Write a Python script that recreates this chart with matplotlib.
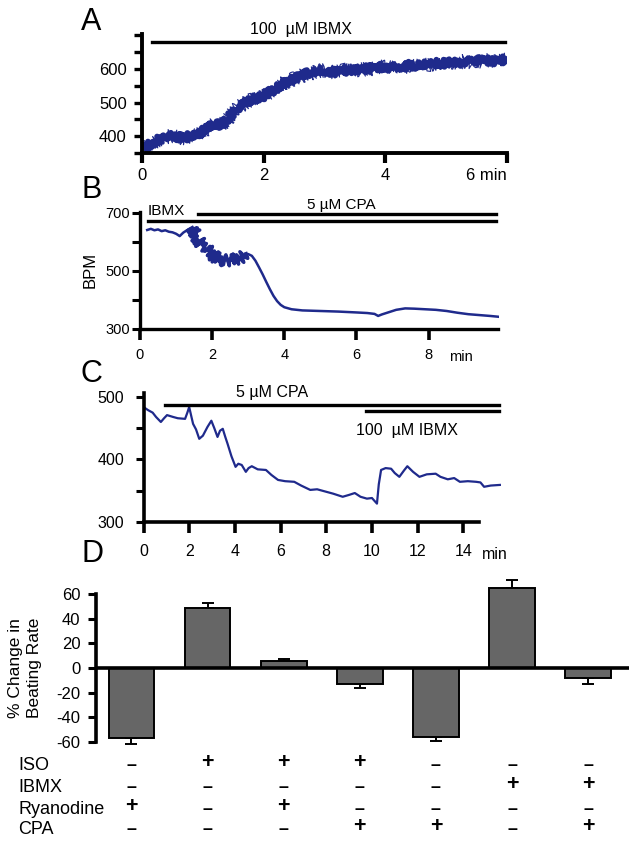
import matplotlib
matplotlib.use('Agg')
import matplotlib.pyplot as plt
import matplotlib.transforms as mtransforms

plt.rcParams['font.family'] = ['Liberation Sans', 'DejaVu Sans']
plt.rcParams['axes.unicode_minus'] = False

W, H = 633, 843
trace_color = '#1f2a8c'

# Panel A: 100 uM IBMX, beating rate (BPM) vs time (min)
a_time = [0.05, 0.1, 0.2, 0.3, 0.4, 0.5, 0.6, 0.7, 0.8, 0.9,
          1.0, 1.1, 1.2, 1.3, 1.4, 1.5, 1.6, 1.7, 1.8, 1.9,
          2.0, 2.1, 2.2, 2.3, 2.4, 2.5, 2.6, 2.7, 2.8, 2.9,
          3.0, 3.1, 3.2, 3.3, 3.4, 3.5, 3.6, 3.7, 3.8, 3.9,
          4.0, 4.1, 4.2, 4.3, 4.4, 4.5, 4.6, 4.7, 4.8, 4.9,
          5.0, 5.1, 5.2, 5.3, 5.4, 5.5, 5.6, 5.7, 5.8, 5.9, 6.0]
a_bpm = [365, 372, 383, 392, 398, 401, 397, 394, 404, 399,
         415, 425, 437, 433, 448, 472, 488, 498, 509, 515,
         519, 531, 543, 556, 562, 571, 577, 586, 588, 594,
         596, 592, 590, 597, 594, 599, 596, 603, 600, 605,
         607, 604, 609, 606, 612, 609, 614, 611, 616, 619,
         616, 621, 618, 624, 620, 626, 622, 627, 623, 628, 624]

# Panel B: IBMX then 5 uM CPA
b_time = [0.2, 0.3, 0.4, 0.5, 0.6, 0.7, 0.8, 0.9, 1.0, 1.1, 1.2, 1.3, 1.4,
          1.45, 1.55, 1.65, 1.75, 1.85, 1.95, 2.05, 2.15, 2.25, 2.35,
          2.45, 2.55, 2.65, 2.75, 2.85, 2.95,
          3.0, 3.1, 3.2, 3.3, 3.4, 3.5, 3.6, 3.7, 3.8, 3.9, 4.0, 4.2,
          4.5, 5.0, 5.5, 6.0, 6.3, 6.5, 6.6, 6.7, 6.9, 7.1, 7.35, 7.6,
          7.9, 8.2, 8.5, 8.8, 9.1, 9.4, 9.7, 9.95]
b_bpm = [641, 645, 640, 643, 637, 640, 635, 633, 628, 620, 632, 640, 647,
         649, 618, 600, 585, 575, 566, 551, 542, 540, 536,
         538, 534, 540, 538, 548, 558,
         558, 552, 535, 512, 488, 462, 437, 414, 396, 383, 375, 368,
         364, 362, 360, 357, 355, 352, 345, 350, 358, 366, 371, 370,
         368, 366, 362, 356, 351, 348, 345, 342]
b_noisy = (1.45, 2.95)   # stretch of the trace recorded with heavy beat-to-beat noise

# Panel C: 5 uM CPA then 100 uM IBMX
c_time = [0.0, 0.2, 0.4, 0.55, 0.76, 0.9, 1.03, 1.3, 1.5, 1.82,
          1.92, 2.0, 2.1, 2.17, 2.3, 2.44, 2.6, 2.8, 2.97, 3.1,
          3.24, 3.35, 3.47, 3.58, 3.68, 3.85, 4.03, 4.15, 4.3, 4.48,
          4.6, 4.74, 5.0, 5.36, 5.6, 5.89, 6.2, 6.6, 6.9, 7.3,
          7.6, 8.0, 8.3, 8.72, 9.0, 9.25, 9.5, 9.78, 10.0, 10.22,
          10.3, 10.4, 10.6, 10.84, 11.0, 11.2, 11.4, 11.55, 11.8, 12.08,
          12.4, 12.79, 13.0, 13.32, 13.6, 13.85, 14.2, 14.56, 14.75, 14.91,
          15.2, 15.6]
c_bpm = [484, 479, 475, 468, 460, 466, 471, 468, 466, 465,
         475, 484, 468, 457, 448, 433, 438, 452, 462, 450,
         436, 446, 449, 436, 425, 405, 388, 393, 391, 380,
         386, 389, 384, 383, 375, 367, 365, 364, 358, 351,
         352, 348, 345, 340, 343, 346, 340, 337, 338, 329,
         360, 383, 386, 385, 378, 372, 382, 389, 380, 372,
         376, 377, 372, 368, 370, 364, 365, 364, 363, 356,
         358, 359]

# Panel D: % change in beating rate
d_change = [-57, 49, 6, -13, -56, 65, -8]
d_err = [5, 3.5, 1, 3.5, 3.5, 6.5, 5]
row_names = ['ISO', 'IBMX', 'Ryanodine', 'CPA']
row_signs = [['-', '+', '+', '+', '-', '-', '-'],
             ['-', '-', '-', '-', '-', '+', '+'],
             ['+', '-', '+', '-', '-', '-', '-'],
             ['-', '-', '-', '+', '+', '-', '+']]

fig = plt.figure(figsize=(W / 100, H / 100), dpi=100)


def px_axes(left, top, right, bottom):
    return fig.add_axes([left / W, 1 - bottom / H, (right - left) / W, (bottom - top) / H])


def style_axes(ax, lw=2.6):
    for s in ['top', 'right']:
        ax.spines[s].set_visible(False)
    ax.spines['left'].set_linewidth(lw)
    ax.spines['bottom'].set_linewidth(lw)
    ax.patch.set_alpha(0)


# ---- A ----
axA = px_axes(142, 34, 507, 153)
style_axes(axA, 2.8)
band, = axA.plot(a_time, a_bpm, color=trace_color, lw=4.2)
band.set_sketch_params(scale=3.5, length=1.2, randomness=3)
edge, = axA.plot(a_time, a_bpm, color=trace_color, lw=0.8)
edge.set_sketch_params(scale=7, length=0.8, randomness=4)
axA.set_xlim(0, 6)
axA.set_ylim(350, 704)
axA.set_yticks([400, 500, 600])
axA.set_yticks([350, 450, 550, 650, 700], minor=True)
axA.set_xticks([0, 2, 4, 6])
axA.set_xticklabels(['0', '2', '4', '6 min'])
axA.get_xticklabels()[-1].set_horizontalalignment('right')
axA.tick_params(axis='y', which='both', length=6, width=2.4, labelsize=12, pad=5)
axA.tick_params(axis='x', length=7, width=3, labelsize=12, pad=4)
axA.plot([0.16, 5.96], [680, 680], color='black', lw=2.4, clip_on=False)
axA.text(2.61, 716, '100  µM IBMX', ha='center', va='center', fontsize=11.5)

# ---- B ----
axB = px_axes(140, 211.7, 499, 329)
style_axes(axB, 2.4)
axB.plot(b_time, b_bpm, color=trace_color, lw=1.8)
seg = [i for i, t in enumerate(b_time) if b_noisy[0] <= t <= b_noisy[1]]
noisy, = axB.plot([b_time[i] for i in seg], [b_bpm[i] for i in seg], color=trace_color, lw=2.5)
noisy.set_sketch_params(scale=6, length=1.2, randomness=3)
axB.set_xlim(0, 9.95)
axB.set_ylim(300, 704)
axB.spines['bottom'].set_bounds(0, 9.92)
axB.set_yticks([300, 500, 700])
axB.set_yticks([400, 600], minor=True)
axB.set_xticks([0, 2, 4, 6, 8])
axB.tick_params(axis='y', which='both', length=6, width=2.2, labelsize=10.5, pad=1)
axB.tick_params(axis='x', length=8, width=2.6, labelsize=10.5, pad=6)
axB.set_ylabel('BPM', fontsize=12, labelpad=6)
axB.plot([0.21, 9.86], [672, 672], color='black', lw=2.4, clip_on=False)
axB.plot([1.61, 9.86], [695, 695], color='black', lw=2.4, clip_on=False)
axB.text(0.22, 706, 'IBMX', ha='left', va='center', fontsize=11)
axB.text(5.58, 727, '5 µM CPA', ha='center', va='center', fontsize=11)
axB.text(8.89, 203, 'min', ha='center', va='center', fontsize=10.5)

# ---- C ----
axC = px_axes(143.5, 393.3, 501, 521.7)
style_axes(axC, 2.6)
axC.plot(c_time, c_bpm, color=trace_color, lw=1.6)
axC.set_xlim(0, 15.65)
axC.set_ylim(300, 506)
axC.spines['bottom'].set_bounds(0, 14.7)
axC.set_yticks([300, 400, 500])
axC.set_yticks([350, 450], minor=True)
axC.set_xticks([0, 2, 4, 6, 8, 10, 12, 14])
axC.tick_params(axis='y', which='both', length=6, width=2.2, labelsize=11.5, pad=8)
axC.tick_params(axis='x', length=8, width=2.6, labelsize=11.5, pad=8)
axC.plot([0.94, 15.56], [488, 488], color='black', lw=2.4, clip_on=False)
axC.plot([9.73, 15.56], [477, 477], color='black', lw=2.4, clip_on=False)
axC.text(5.62, 508, '5 µM CPA', ha='center', va='center', fontsize=11.5)
axC.text(11.55, 447, '100  µM IBMX', ha='center', va='center', fontsize=11.5)
axC.text(15.36, 247, 'min', ha='center', va='center', fontsize=11.5)

# ---- D ----
axD = px_axes(95.8, 575.5, 628.5, 745.7)
style_axes(axD, 2.6)
axD.spines['bottom'].set_visible(False)
pos = list(range(len(d_change)))
lower = [e if v < 0 else 0 for v, e in zip(d_change, d_err)]
upper = [e if v > 0 else 0 for v, e in zip(d_change, d_err)]
axD.errorbar(pos, d_change, yerr=[lower, upper], fmt='none', ecolor='black',
             elinewidth=1.4, capsize=4.5, capthick=1.4, zorder=1)
axD.bar(pos, d_change, width=0.6, color='#666666', edgecolor='black', linewidth=1.4, zorder=2)
axD.axhline(0, color='black', lw=2.6, zorder=3)
axD.set_xlim(-0.468, 6.53)
axD.set_ylim(-63, 75)
axD.spines['left'].set_bounds(-60, 60)
axD.set_yticks([-60, -40, -20, 0, 20, 40, 60])
axD.set_xticks([])
axD.tick_params(axis='y', length=6, width=2.2, labelsize=12, pad=5)
fig.text(25 / W, 1 - 668 / H, '% Change in\nBeating Rate', rotation=90,
         ha='center', va='center', fontsize=12.5, linespacing=1.25)

trans = mtransforms.blended_transform_factory(axD.transData, fig.transFigure)
row_y = [766, 788, 809, 830]
for name, signs, y in zip(row_names, row_signs, row_y):
    fig.text(18 / W, 1 - y / H, name, ha='left', va='center', fontsize=13)
    for i, s in enumerate(signs):
        glyph, dy, fs = ('+', 3, 15.5) if s == '+' else ('–', 0, 13)
        axD.text(i, 1 - (y - dy) / H, glyph, transform=trans, ha='center', va='center',
                 fontsize=fs, fontweight='bold', clip_on=False)

# panel letters
for letter, yb in zip('ABCD', [30, 198, 382, 562]):
    fig.text(81 / W, 1 - yb / H, letter, ha='left', va='baseline', fontsize=22)

fig.savefig('out.png', dpi=100)
